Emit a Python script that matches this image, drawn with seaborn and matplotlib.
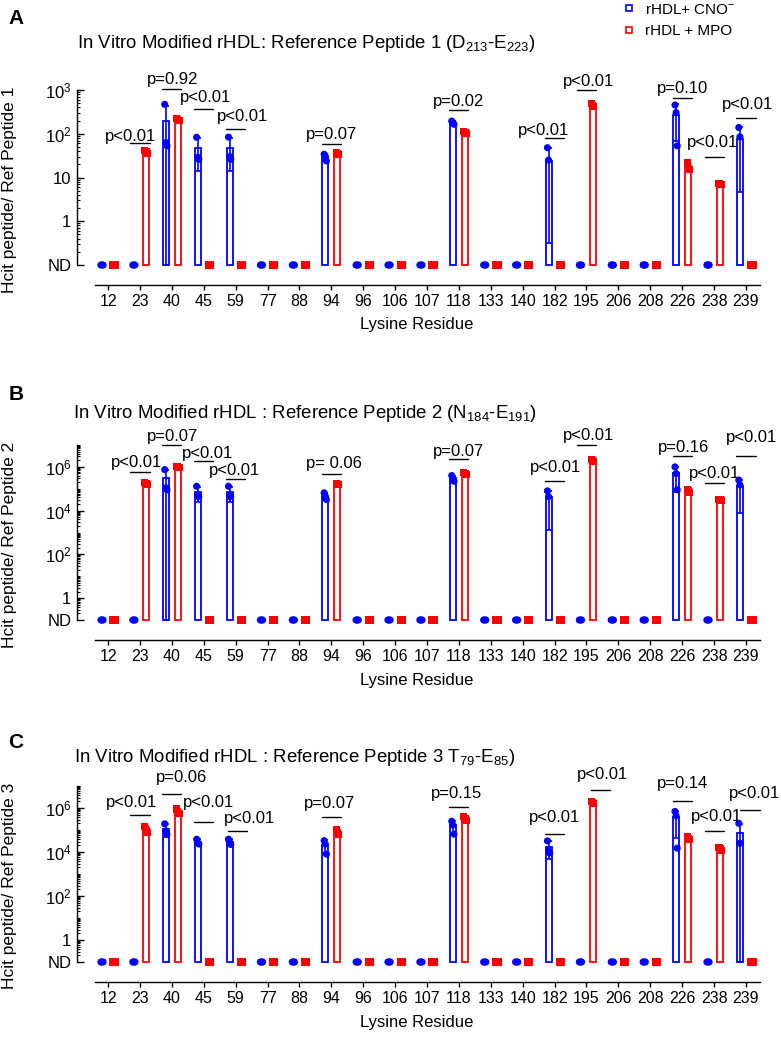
import numpy as np
import pandas as pd
import matplotlib
matplotlib.use("Agg")
import matplotlib.pyplot as plt
import seaborn as sns
from matplotlib.lines import Line2D
from matplotlib.ticker import FixedLocator, FixedFormatter, LogLocator, NullFormatter

# lysine residues on the x axis
residues = [12, 23, 40, 45, 59, 77, 88, 94, 96, 106, 107, 118, 133, 140,
            182, 195, 206, 208, 226, 238, 239]
groups = ["CNO", "MPO"]
legend_labels = ["rHDL+ CNO$^{-}$", "rHDL + MPO"]

# replicate values (3 per residue); residues not listed = not detected (ND)
cno_A = {40: [470, 63, 53], 45: [83, 29, 26], 59: [84, 30, 26], 94: [34, 31, 24],
         118: [195, 180, 165], 182: [48, 25, 0], 226: [455, 305, 53], 239: [139, 85, 0]}
mpo_A = {23: [42, 39, 36], 40: [225, 215, 205], 94: [38, 36, 34], 118: [110, 105, 100],
         195: [480, 450, 420], 226: [22, 16, 15], 238: [7.2, 7.0, 6.8]}

cno_B = {40: [7.5e5, 1.1e5, 0.9e5], 45: [1.3e5, 4.5e4, 4.5e4], 59: [1.3e5, 4.5e4, 4.5e4],
         94: [6.5e4, 4.5e4, 3.2e4], 118: [4e5, 3e5, 2.2e5], 182: [8e4, 4.4e4, 0],
         226: [1e6, 5e5, 9e4], 239: [2.5e5, 1.5e5, 0]}
mpo_B = {23: [2e5, 1.8e5, 1.6e5], 40: [1.05e6, 1e6, 0.9e6], 94: [1.7e5, 1.6e5, 1.5e5],
         118: [5.5e5, 5e5, 4.5e5], 195: [2.1e6, 2e6, 1.8e6], 226: [9e4, 8e4, 7e4],
         238: [3.3e4, 3.1e4, 2.9e4]}

cno_C = {40: [1.9e5, 9e4, 6.5e4], 45: [3.8e4, 2.7e4, 2.3e4], 59: [3.8e4, 2.8e4, 2.2e4],
         94: [3.3e4, 2.3e4, 8e3], 118: [2.5e5, 1.7e5, 6.5e4], 182: [3.2e4, 1.1e4, 9e3],
         226: [7e5, 4.5e5, 1.5e4], 239: [2e5, 2.5e4, 0]}
mpo_C = {23: [1.5e5, 9e4, 7.5e4], 40: [9e5, 6.5e5, 5.5e5], 94: [1.1e5, 8e4, 6.5e4],
         118: [4.3e5, 3.2e5, 2.6e5], 195: [2e6, 1.7e6, 1.6e6], 226: [4.8e4, 4.2e4, 3.8e4],
         238: [1.6e4, 1.4e4, 1.2e4]}

# p-value brackets: residue, bracket height, text, text dx (px), text gap (px), bracket dx (px)
ann_A = [(23, 63, "p<0.01", -9, 2, 0), (40, 1040, "p=0.92", 1, 5, 0),
         (45, 363, "p<0.01", 2, 7, 0), (59, 128, "p<0.01", 7, 8, 0),
         (94, 58, "p=0.07", 0, 5, 0), (118, 350, "p=0.02", 0, 4, 0),
         (182, 78, "p<0.01", -11, 3, 0), (195, 990, "p<0.01", 2, 4, 0),
         (226, 670, "p=0.10", 0, 5, 0), (238, 29, "p<0.01", -2, 10, 0),
         (239, 235, "p<0.01", 2, 9, 0)]
ann_B = [(23, 5.9e5, "p<0.01", -3, 5, 0), (40, 1.0e7, "p=0.07", 1, 4, 0),
         (45, 1.8e6, "p<0.01", 4, 3, 0), (59, 2.8e5, "p<0.01", -1, 4, 0),
         (94, 4.5e5, "p= 0.06", 3, 6, 0), (118, 2.4e6, "p=0.07", 0, 3, 0),
         (182, 2.3e5, "p<0.01", 1, 9, 0), (195, 9.6e6, "p<0.01", 2, 5, 0),
         (226, 3.0e6, "p=0.16", 1, 4, 0), (238, 1.8e5, "p<0.01", 0, 5, 0),
         (239, 3.0e6, "p<0.01", 6, 14, 0)]
ann_C = [(23, 4.8e5, "p<0.01", -8, 8, 0), (40, 4.3e6, "p=0.06", 10, 12, 0),
         (45, 2.2e5, "p<0.01", 5, 15, 0), (59, 9.3e4, "p<0.01", 12, 8, 2),
         (94, 4.0e5, "p=0.07", -2, 9, 0), (118, 1.1e6, "p=0.15", -2, 9, 0),
         (182, 6.6e4, "p<0.01", 0, 12, 0), (195, 6.8e6, "p<0.01", 2, 11, 14),
         (226, 2.0e6, "p=0.14", 0, 13, 0), (238, 9.3e4, "p<0.01", 2, 10, 0),
         (239, 8.3e5, "p<0.01", 5, 12, 4)]

titles = ["In Vitro Modified rHDL: Reference Peptide 1 (D$_{213}$-E$_{223}$)",
          "In Vitro Modified rHDL : Reference Peptide 2 (N$_{184}$-E$_{191}$)",
          "In Vitro Modified rHDL : Reference Peptide 3 T$_{79}$-E$_{85}$)"]
ylabels = ["Hcit peptide/ Ref Peptide 1", "Hcit peptide/ Ref Peptide 2",
           "Hcit peptide/ Ref Peptide 3"]
yticks_A = [0.1, 1, 10, 100, 1000]
ylabs_A = ["ND", "1", "10", "10$^2$", "10$^3$"]
yticks_BC = [0.1, 1, 1e2, 1e4, 1e6]
ylabs_BC = ["ND", "1", "10$^2$", "10$^4$", "10$^6$"]

ND = 0.1
pal = {"CNO": "#0000FF", "MPO": "#FF0000"}

sns.set_style("white")
plt.rcParams["font.family"] = ["Liberation Sans", "DejaVu Sans"]
plt.rcParams["mathtext.fontset"] = "custom"
plt.rcParams["mathtext.rm"] = "Liberation Sans"
plt.rcParams["mathtext.it"] = "Liberation Sans:italic"
plt.rcParams["mathtext.bf"] = "Liberation Sans:bold"
for k in ["text.color", "axes.labelcolor", "xtick.color", "ytick.color"]:
    plt.rcParams[k] = "black"

W, H = 781, 1037
fig = plt.figure(figsize=(W / 100, H / 100), dpi=100)

px = 31.9          # pixels per category
off = 0.19         # dodge offset of each group
shift = [-0.035, 0, 0.035]


def long_table(cno, mpo):
    rows = []
    for grp, vals in (("CNO", cno), ("MPO", mpo)):
        for r in residues:
            for k, v in enumerate(vals.get(r, [0, 0, 0])):
                rows.append({"residue": r, "group": grp, "rep": k, "value": v})
    return pd.DataFrame(rows)


def panel(ax, cno, mpo, ann, top, yt, yl, ylab):
    df = long_table(cno, mpo)
    pos = {r: i for i, r in enumerate(residues)}
    stats = df.groupby(["residue", "group"])["value"].agg(["mean", "std"]).reset_index()
    nz = stats[stats["mean"] > 0]

    sns.barplot(data=nz, x="residue", y="mean", hue="group", order=residues,
                hue_order=groups, palette=pal, fill=False, width=2 * off * 2,
                gap=0.5, errorbar=None, bottom=ND, linewidth=1.3, legend=False,
                ax=ax, clip_on=False, zorder=2)

    for _, row in nz.iterrows():
        x = pos[row["residue"]] + (-off if row["group"] == "CNO" else off)
        m, sd = row["mean"], row["std"]
        lo = max(m - sd, ND)
        ax.errorbar(x, m, yerr=[[m - lo], [sd]], fmt="none", ecolor=pal[row["group"]],
                    elinewidth=1.2, capsize=2.3, capthick=1.2, zorder=3, clip_on=False)

    # points: detected replicates at their value, fully undetected groups at ND
    gmean = df.groupby(["residue", "group"])["value"].transform("mean")
    df = df[(df["value"] > 0) | (gmean == 0)].copy()
    df["x"] = df["residue"].map(pos) + np.where(df["group"] == "CNO", -off, off) \
        + df["rep"].map(lambda k: shift[k])
    df["y"] = df["value"].where(df["value"] > 0, ND)
    sns.scatterplot(data=df, x="x", y="y", hue="group", style="group", palette=pal,
                    markers={"CNO": "o", "MPO": "s"}, s=26, linewidth=0,
                    legend=False, ax=ax, clip_on=False, zorder=4)

    ax.set_yscale("log")
    ax.set_ylim(ND, top)
    ax.set_xlim(-0.41, 20.44)
    ax.set_xticks(range(len(residues)))
    ax.set_xticklabels([str(r) for r in residues])
    ax.yaxis.set_major_locator(FixedLocator(yt))
    ax.yaxis.set_major_formatter(FixedFormatter(yl))
    ax.yaxis.set_minor_locator(LogLocator(base=10, subs=np.arange(1, 10), numticks=100))
    ax.yaxis.set_minor_formatter(NullFormatter())

    for s in ["top", "right"]:
        ax.spines[s].set_visible(False)
    ax.spines["left"].set_position(("outward", 18 * 0.72))
    ax.spines["bottom"].set_position(("outward", 20 * 0.72))
    for s in ["left", "bottom"]:
        ax.spines[s].set_linewidth(1.0)
        ax.spines[s].set_color("black")
    ax.tick_params(axis="y", which="major", direction="in", length=5, width=1,
                   pad=4, labelsize=12, left=True)
    ax.tick_params(axis="y", which="minor", direction="in", length=2.5, width=0.8, left=True)
    ax.tick_params(axis="x", which="major", direction="out", length=3.5, width=1,
                   pad=3, labelsize=11.5, bottom=True)
    ax.grid(False)

    ax.set_xlabel("Lysine Residue", fontsize=12)
    ax.xaxis.set_label_coords(0.483, -0.30)
    ax.set_ylabel(ylab, fontsize=12.5)
    ax.yaxis.set_label_coords(-0.117, 0.43)

    for r, yv, txt, tdx, gap, ldx in ann:
        xc = pos[r] + ldx / px
        ax.plot([xc - 0.3, xc + 0.3], [yv, yv], color="black", lw=1.0,
                clip_on=False, zorder=5)
        ax.annotate(txt, xy=(xc, yv), xytext=(tdx, gap), textcoords="offset pixels",
                    ha="center", va="baseline", fontsize=12, annotation_clip=False)


left, width = 95 / W, 665 / W
axA = fig.add_axes([left, 1 - 265 / H, width, 175 / H])
axB = fig.add_axes([left, 1 - 620 / H, width, 175 / H])
axC = fig.add_axes([left, 1 - 962 / H, width, 176 / H])

panel(axA, cno_A, mpo_A, ann_A, 1e3, yticks_A, ylabs_A, ylabels[0])
panel(axB, cno_B, mpo_B, ann_B, 1e7, yticks_BC, ylabs_BC, ylabels[1])
panel(axC, cno_C, mpo_C, ann_C, 1e7, yticks_BC, ylabs_BC, ylabels[2])

for (tx, ty), t in zip([(77, 43), (73, 413), (74, 757)], titles):
    fig.text(tx / W, 1 - ty / H, t, ha="left", va="center", fontsize=13.4)
for (lx, ly), lab in zip([(16, 18), (16, 395), (16, 743)], ["A", "B", "C"]):
    fig.text(lx / W, 1 - ly / H, lab, ha="center", va="center", fontsize=15,
             fontweight="bold")

handles = [Line2D([], [], marker="s", ls="", mfc="none", mec=pal[g], mew=1.2, ms=5)
           for g in groups]
fig.legend(handles, legend_labels, loc="upper left", bbox_to_anchor=(610 / W, 1 + 11 / H),
           frameon=False, fontsize=11, handletextpad=0.7, labelspacing=0.5,
           handlelength=0.7)

fig.savefig("out.png", dpi=100)
